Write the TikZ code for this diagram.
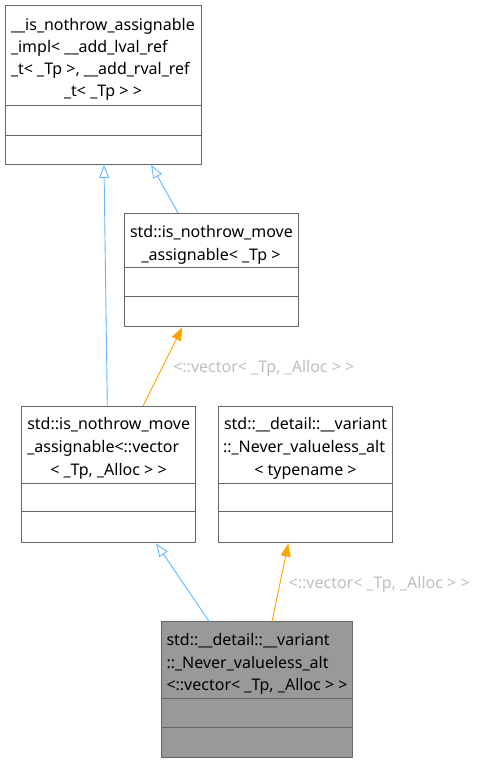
\documentclass[tikz,border=0pt]{standalone}
\usepackage{fontspec}
\setmainfont{Noto Sans}
\usetikzlibrary{arrows.meta}
\definecolor{edgeblue}{HTML}{63B8FF}
\definecolor{edgeorange}{HTML}{FFA500}
\definecolor{boxline}{HTML}{666666}
\definecolor{boxfill}{HTML}{999999}
\definecolor{lblgray}{HTML}{BEBEBE}
\tikzset{
 box/.style={draw=boxline, line width=1pt, anchor=north west, inner sep=0pt, outer sep=0pt},
 divider/.style={draw=boxline, line width=1pt},
 txt/.style={inner sep=0pt, outer sep=0pt, font=\fontsize{16}{19}\selectfont},
 lt/.style={txt, anchor=base west},
 ct/.style={txt, anchor=base},
 lbl/.style={txt, text=lblgray, anchor=base west},
 inh/.style={draw=edgeblue, line width=0.9pt, -{Triangle[open, length=13pt, width=10pt]}},
 tmpl/.style={draw=edgeorange, line width=0.9pt, -{Triangle[length=13pt, width=10pt, fill=edgeorange]}},
}
\begin{document}
\begin{tikzpicture}[x=1pt,y=-1pt]
\useasboundingbox[fill=white] (0,0) rectangle (477,763);

% Box A
\node[box, minimum width=196pt, minimum height=159pt] (A) at (5,5) {};
\draw[divider] (5,105) -- (201,105);
\draw[divider] (5,135) -- (201,135);
\node[lt] (A1) at (11,30) {\_\_is\_nothrow\_assignable};
\node[lt] (A2) at (11,52) {\_impl< \_\_add\_lval\_ref};
\node[lt] (A3) at (11,74) {\_t< \_Tp >, \_\_add\_rval\_ref};
\node[ct] (A4) at (103,96) {\_t< \_Tp > >};

% Box B
\node[box, minimum width=174pt, minimum height=113.5pt] (B) at (124,213.3) {};
\draw[divider] (124,267.7) -- (298,267.7);
\draw[divider] (124,296) -- (298,296);
\node[lt] (B1) at (130,237) {std::is\_nothrow\_move};
\node[ct] (B2) at (211,260) {\_assignable< \_Tp >};

% Box C
\node[box, minimum width=174pt, minimum height=136.7pt] (C) at (21.3,406) {};
\draw[divider] (21.3,483.3) -- (195.3,483.3);
\draw[divider] (21.3,511.7) -- (195.3,511.7);
\node[lt] (C1) at (27.3,429.3) {std::is\_nothrow\_move};
\node[lt] (C2) at (27.3,452.7) {\_assignable<::vector};
\node[ct] (C3) at (108.5,475) {< \_Tp, \_Alloc > >};

% Box D
\node[box, minimum width=174pt, minimum height=136.7pt] (D) at (218.7,406) {};
\draw[divider] (218.7,483.3) -- (392.7,483.3);
\draw[divider] (218.7,511.7) -- (392.7,511.7);
\node[lt] (D1) at (224,429.3) {std::\_\_detail::\_\_variant};
\node[lt] (D2) at (223,452.7) {::\_Never\_valueless\_alt};
\node[ct] (D3) at (305.5,475) {< typename >};

% Box E
\node[box, fill=boxfill, minimum width=191pt, minimum height=136pt] (E) at (161,621.7) {};
\draw[divider] (161,698.7) -- (352,698.7);
\draw[divider] (161,727) -- (352,727);
\node[lt] (E1) at (166.5,645) {std::\_\_detail::\_\_variant};
\node[lt] (E2) at (166.5,668) {::\_Never\_valueless\_alt};
\node[lt] (E3) at (166.5,690.7) {<::vector< \_Tp, \_Alloc > >};

% connector end points
\coordinate (CtoA1) at (107.3,406);
\coordinate (CtoA2) at (104,165);
\coordinate (BtoA1) at (178.3,213.3);
\coordinate (BtoA2) at (151.2,165);
\coordinate (EtoC1) at (209.3,621.7);
\coordinate (EtoC2) at (156.2,543.5);
\coordinate (CtoB1) at (143,406);
\coordinate (CtoB2) at (182.2,327.5);
\coordinate (EtoD1) at (272,621.7);
\coordinate (EtoD2) at (288.3,543.5);

\draw[inh] (CtoA1) -- (CtoA2);
\draw[inh] (BtoA1) -- (BtoA2);
\draw[inh] (EtoC1) -- (EtoC2);
\draw[tmpl] (CtoB1) -- (CtoB2);
\draw[tmpl] (EtoD1) -- (EtoD2);

\node[lbl] (L1) at (173.3,372.7) {<::vector< \_Tp, \_Alloc > >};
\node[lbl] (L2) at (288.7,588) {<::vector< \_Tp, \_Alloc > >};
\end{tikzpicture}
\end{document}
